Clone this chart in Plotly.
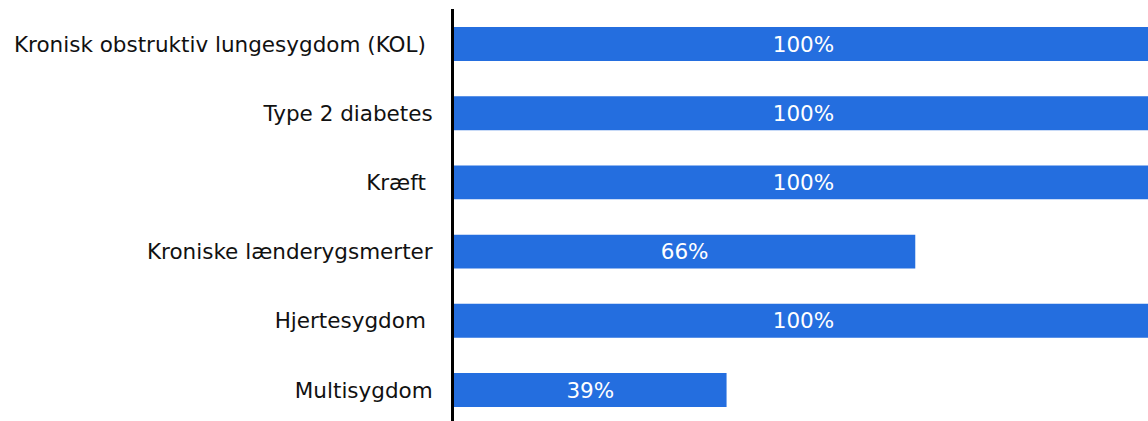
import plotly.graph_objects as go

categories = [
    "Kronisk obstruktiv lungesygdom (KOL) ",
    "Type 2 diabetes",
    "Kræft ",
    "Kroniske lænderygsmerter",
    "Hjertesygdom ",
    "Multisygdom",
]
values = [100, 100, 100, 66, 100, 39]
labels = [f"{v}%" for v in values]

fig = go.Figure(
    go.Bar(
        x=values,
        y=categories,
        orientation="h",
        width=0.49,
        marker=dict(color="#246EDF", line=dict(width=0)),
        text=labels,
        textposition="inside",
        insidetextanchor="middle",
        textfont=dict(family="DejaVu Sans", size=21.5, color="white"),
        cliponaxis=True,
    )
)

fig.update_layout(
    width=1148,
    height=421,
    margin=dict(l=454, r=0, t=9, b=0),
    paper_bgcolor="white",
    plot_bgcolor="white",
    showlegend=False,
    font=dict(family="DejaVu Sans", size=21.5, color="#111111"),
    xaxis=dict(
        range=[0, 99.3],
        showgrid=False,
        zeroline=False,
        showticklabels=False,
        showline=False,
        fixedrange=True,
    ),
    yaxis=dict(
        type="category",
        categoryorder="array",
        categoryarray=categories,
        range=[5.448, -0.506],
        showgrid=False,
        zeroline=False,
        showline=True,
        linecolor="black",
        linewidth=3,
        ticks="",
        ticklabelstandoff=14,
        tickfont=dict(family="DejaVu Sans", size=21.5, color="#111111"),
        fixedrange=True,
    ),
)

fig.write_html("out.html")
